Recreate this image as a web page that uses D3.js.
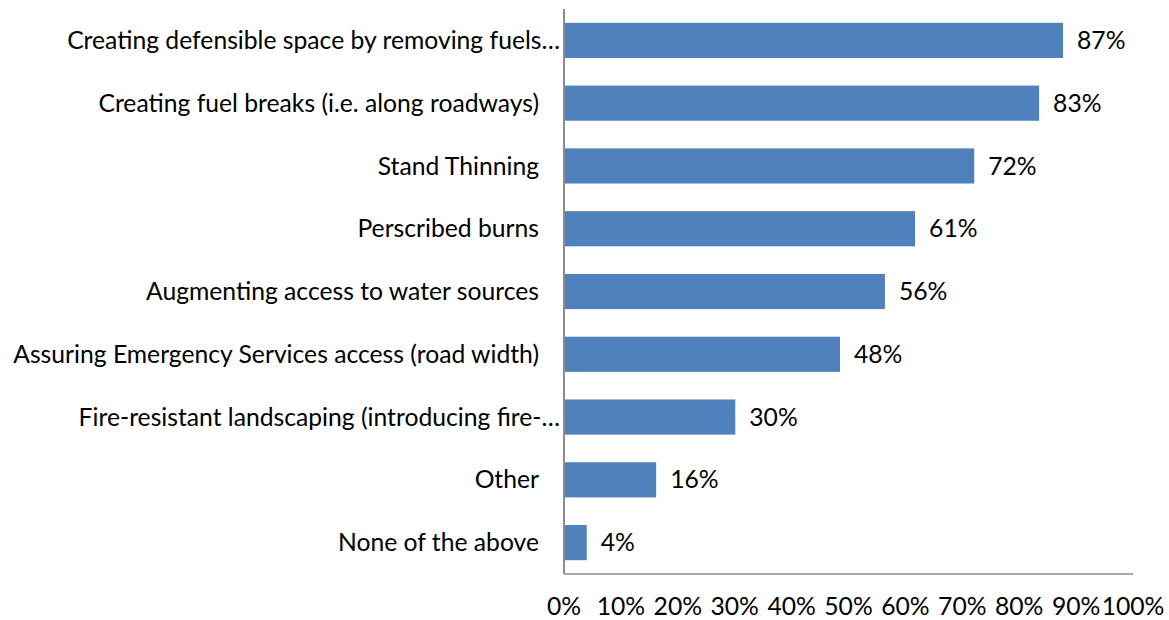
<!DOCTYPE html>
<html><head><meta charset="utf-8">
<script src="https://cdn.jsdelivr.net/npm/d3@7"></script>
<style>body{margin:0;background:#fff}svg{display:block}text{font-family:Lato,"Open Sans",sans-serif;fill:#000}</style>
</head><body><svg id="c" width="1169" height="620"></svg>
<script>
const categories = [
  "Creating defensible space by removing fuels…",
  "Creating fuel breaks (i.e. along roadways)",
  "Stand Thinning",
  "Perscribed burns",
  "Augmenting access to water sources",
  "Assuring Emergency Services access (road width)",
  "Fire-resistant landscaping (introducing fire-…",
  "Other",
  "None of the above"
];
const values = [87.7, 83.5, 72.1, 61.7, 56.4, 48.5, 30.1, 16.2, 4.0];
const valueLabels = ["87%","83%","72%","61%","56%","48%","30%","16%","4%"];
const tickValues = [0,10,20,30,40,50,60,70,80,90,100];
const tickLabels = ["0%","10%","20%","30%","40%","50%","60%","70%","80%","90%","100%"];

(function(){
const svg = d3.select("#c");
const mL = 564, mR = 1133, mT = 9, mB = 574;
const x = d3.scaleLinear().domain([0,100]).range([mL, mR]);
const y = d3.scaleBand().domain(categories).range([mT, mB]).paddingInner(0.44).paddingOuter(0.22);

// fit font size: longest label in reference spans ~527px
const probe = svg.append("text").attr("font-size", 20).text(categories[5]);
const w20 = probe.node().getComputedTextLength();
probe.remove();
const fs = Math.round(20 * 527 / w20 * 10) / 10;

svg.selectAll("rect.bar").data(categories).join("rect")
  .attr("class","bar")
  .attr("x", x(0)).attr("y", d => y(d))
  .attr("width", (d,i) => x(values[i]) - x(0))
  .attr("height", y.bandwidth())
  .attr("fill", "#4F81BD");

svg.append("line").attr("x1", mL).attr("x2", mL).attr("y1", mT).attr("y2", mB)
  .attr("stroke", "#8c8c8c").attr("stroke-width", 2);
svg.append("line").attr("x1", mL).attr("x2", mR).attr("y1", mB).attr("y2", mB)
  .attr("stroke", "#8c8c8c").attr("stroke-width", 1.5);

svg.selectAll("text.cat").data(categories).join("text")
  .attr("class","cat")
  .attr("x", d => d.endsWith("…") ? 560 : 539)
  .attr("y", d => y(d) + y.bandwidth()/2)
  .attr("dy", "0.35em")
  .attr("text-anchor", "end")
  .attr("font-size", fs)
  .text(d => d);

svg.selectAll("text.val").data(categories).join("text")
  .attr("class","val")
  .attr("x", (d,i) => x(values[i]) + 14)
  .attr("y", d => y(d) + y.bandwidth()/2)
  .attr("dy", "0.35em")
  .attr("font-size", fs)
  .text((d,i) => valueLabels[i]);

svg.selectAll("text.tick").data(tickValues).join("text")
  .attr("class","tick")
  .attr("x", d => x(d))
  .attr("y", 606)
  .attr("dy", "0.35em")
  .attr("text-anchor", "middle")
  .attr("font-size", fs)
  .text((d,i) => tickLabels[i]);
})();
</script></body></html>
